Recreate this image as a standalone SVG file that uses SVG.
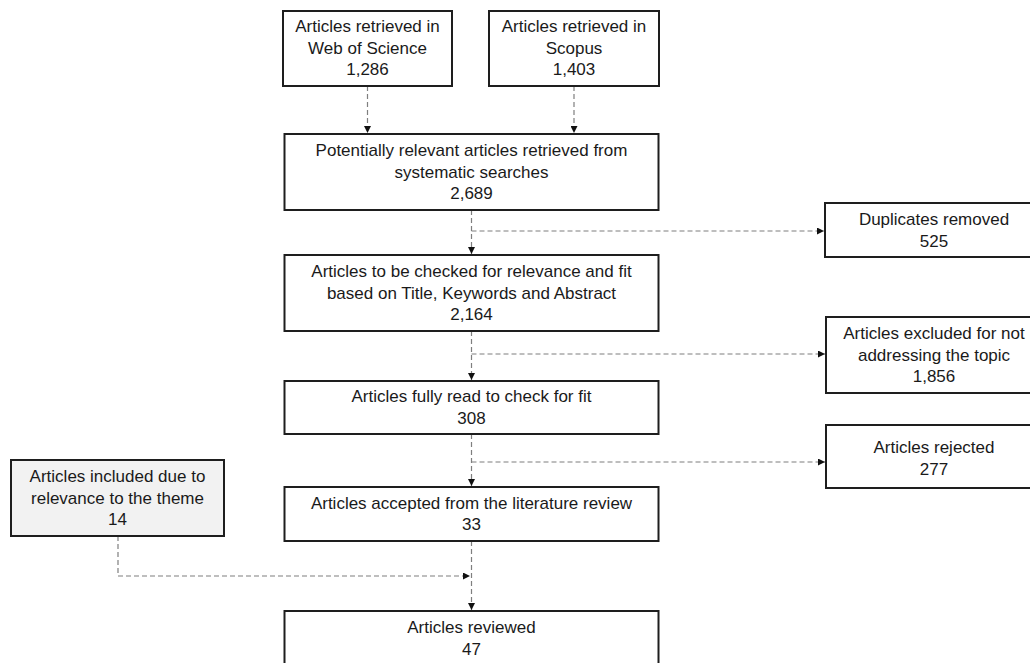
<svg xmlns="http://www.w3.org/2000/svg" width="1030" height="663" viewBox="0 0 1030 663">
<style>
.box{fill:#ffffff;stroke:#1e1e1e;stroke-width:2}
.grey{fill:#f2f2f2}
text{font-family:"Liberation Sans",Arial,sans-serif;font-size:17px;fill:#1a1a1a;text-anchor:middle}
.c{fill:none;stroke:#7f7f7f;stroke-width:1.2;stroke-dasharray:5,3}
</style>
<defs>
<marker id="ah" viewBox="0 0 10 10" refX="10" refY="5" markerWidth="7" markerHeight="7" markerUnits="userSpaceOnUse" orient="auto">
<path d="M0,0 L10,5 L0,10 z" fill="#111"/>
</marker>
</defs>
<rect width="1030" height="663" fill="#ffffff"/>
<g id="connectors">
<path class="c" d="M367.5,86 V133" marker-end="url(#ah)"/>
<path class="c" d="M574,86 V133" marker-end="url(#ah)"/>
<path class="c" d="M471.5,210 V254" marker-end="url(#ah)"/>
<path class="c" d="M471.5,231 H824" marker-end="url(#ah)"/>
<path class="c" d="M471.5,331 V380" marker-end="url(#ah)"/>
<path class="c" d="M471.5,354 H825" marker-end="url(#ah)"/>
<path class="c" d="M471.5,434 V486" marker-end="url(#ah)"/>
<path class="c" d="M471.5,462 H825" marker-end="url(#ah)"/>
<path class="c" d="M471.5,541 V610" marker-end="url(#ah)"/>
<path class="c" d="M118,536 V576 H470" marker-end="url(#ah)"/>
</g>
<g id="n-wos">
<rect class="box" x="283" y="11" width="169" height="75"/>
<text x="367.5" y="32">Articles retrieved in</text>
<text x="367.5" y="53.7">Web of Science</text>
<text x="367.5" y="75.4">1,286</text>
</g>
<g id="n-scopus">
<rect class="box" x="489" y="11" width="170" height="75"/>
<text x="574" y="32">Articles retrieved in</text>
<text x="574" y="53.7">Scopus</text>
<text x="574" y="75.4">1,403</text>
</g>
<g id="n-potential">
<rect class="box" x="284.5" y="134" width="374" height="76"/>
<text x="471.5" y="155.8">Potentially relevant articles retrieved from</text>
<text x="471.5" y="177.5">systematic searches</text>
<text x="471.5" y="199.2">2,689</text>
</g>
<g id="n-duplicates">
<rect class="box" x="825" y="203" width="220" height="54"/>
<text x="934" y="225">Duplicates removed</text>
<text x="934" y="246.7">525</text>
</g>
<g id="n-check">
<rect class="box" x="284.5" y="255" width="374" height="76"/>
<text x="471.5" y="276.8">Articles to be checked for relevance and fit</text>
<text x="471.5" y="298.5">based on Title, Keywords and Abstract</text>
<text x="471.5" y="320.2">2,164</text>
</g>
<g id="n-excluded">
<rect class="box" x="826" y="317" width="220" height="76"/>
<text x="934" y="338.8">Articles excluded for not</text>
<text x="934" y="360.5">addressing the topic</text>
<text x="934" y="382.2">1,856</text>
</g>
<g id="n-fullread">
<rect class="box" x="284.5" y="381" width="374" height="53"/>
<text x="471.5" y="402">Articles fully read to check for fit</text>
<text x="471.5" y="423.7">308</text>
</g>
<g id="n-rejected">
<rect class="box" x="826" y="425" width="220" height="63"/>
<text x="934" y="453">Articles rejected</text>
<text x="934" y="474.7">277</text>
</g>
<g id="n-included">
<rect class="box grey" x="11" y="460" width="213" height="76"/>
<text x="117.5" y="481.8">Articles included due to</text>
<text x="117.5" y="503.5">relevance to the theme</text>
<text x="117.5" y="525.2">14</text>
</g>
<g id="n-accepted">
<rect class="box" x="284.5" y="487" width="374" height="54"/>
<text x="471.5" y="508.6">Articles accepted from the literature review</text>
<text x="471.5" y="530.3">33</text>
</g>
<g id="n-reviewed">
<rect class="box" x="284.5" y="611" width="374" height="60"/>
<text x="471.5" y="633.3">Articles reviewed</text>
<text x="471.5" y="655">47</text>
</g>
</svg>
